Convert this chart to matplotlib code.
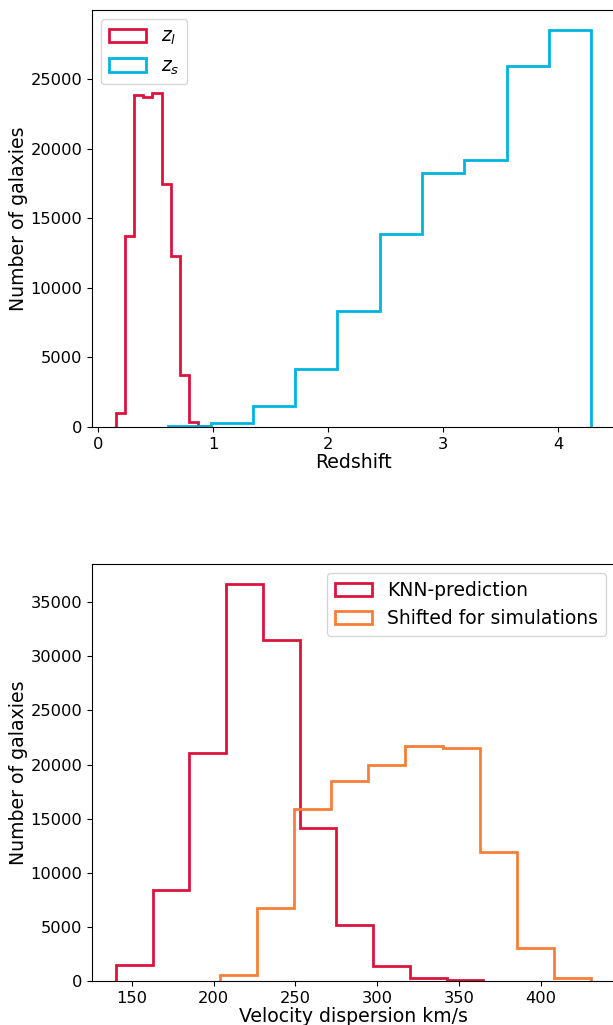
import numpy as np
import matplotlib
matplotlib.use("Agg")
import matplotlib.pyplot as plt

# redshift histograms (bin edges + counts)
zl_edges = [0.153, 0.233, 0.313, 0.393, 0.472, 0.552, 0.632, 0.712, 0.792, 0.872, 0.952]
zl_counts = [1000, 13750, 23850, 23680, 23970, 17480, 12270, 3750, 360, 100]

zs_edges = [0.61, 0.978, 1.346, 1.714, 2.082, 2.45, 2.818, 3.186, 3.554, 3.922, 4.29]
zs_counts = [100, 300, 1510, 4180, 8360, 13900, 18230, 19160, 25940, 28530]

# velocity dispersion histograms
knn_edges = [140.2, 162.7, 185.1, 207.6, 230.1, 252.5, 275.0, 297.4, 319.9, 342.4, 364.9]
knn_counts = [1520, 8430, 21050, 36700, 31550, 14140, 5130, 1360, 310, 90]

shift_edges = [203.6, 226.3, 249.0, 271.8, 294.5, 317.2, 339.9, 362.6, 385.4, 408.1, 430.8]
shift_counts = [590, 6700, 15900, 18460, 19970, 21730, 21520, 11890, 3090, 280]

red = '#DC143C'
blue = '#00B4E0'
orange = '#F77F38'

plt.rcParams['font.size'] = 11.7
plt.rcParams['axes.labelsize'] = 13.6

fig = plt.figure(figsize=(6.13, 10.25), dpi=100)
W, H = 613.0, 1025.0
ax1 = fig.add_axes([92 / W, 1 - 427 / H, 523 / W, 417 / H])
ax2 = fig.add_axes([92 / W, 1 - 981 / H, 523 / W, 417 / H])

ax1.hist(zl_edges[:-1], bins=zl_edges, weights=zl_counts, histtype='step',
         color=red, linewidth=2, label=r'$z_l$')
ax1.hist(zs_edges[:-1], bins=zs_edges, weights=zs_counts, histtype='step',
         color=blue, linewidth=2, label=r'$z_s$')
ax1.set_xlabel('Redshift', labelpad=1)
ax1.set_ylabel('Number of galaxies', labelpad=2)
ax1.legend(loc='upper left', fontsize=13.5)

ax2.hist(knn_edges[:-1], bins=knn_edges, weights=knn_counts, histtype='step',
         color=red, linewidth=2, label='KNN-prediction')
ax2.hist(shift_edges[:-1], bins=shift_edges, weights=shift_counts, histtype='step',
         color=orange, linewidth=2, label='Shifted for simulations')
ax2.set_xlabel('Velocity dispersion km/s', labelpad=1)
ax2.set_ylabel('Number of galaxies', labelpad=2)
ax2.legend(loc='upper right', fontsize=13.5)

fig.savefig('out.png', dpi=100)
